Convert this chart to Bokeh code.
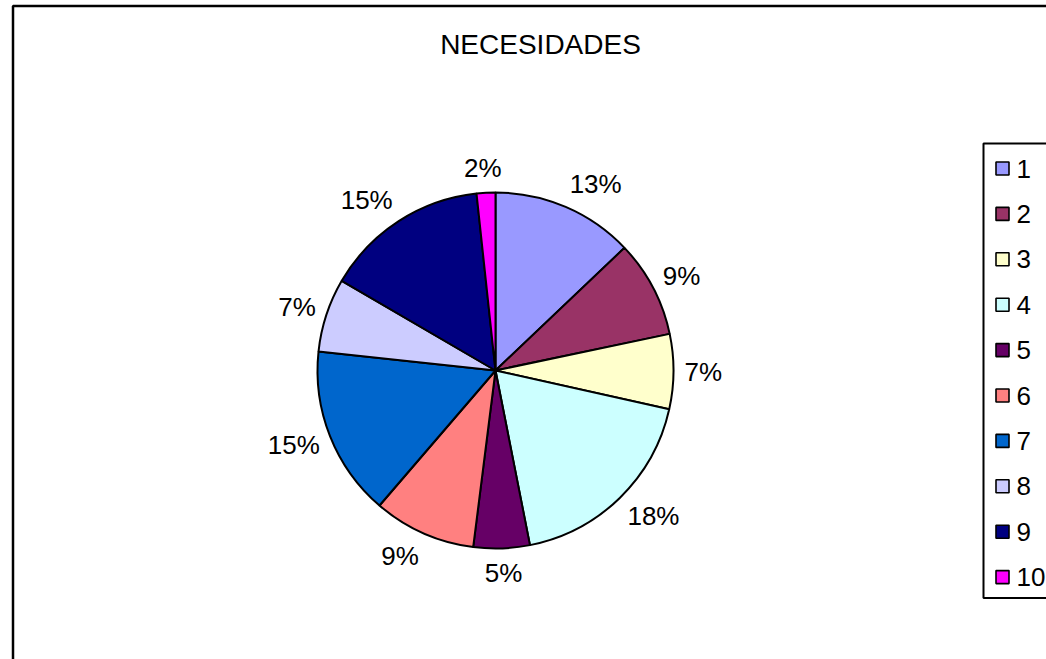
import math
from bokeh.plotting import figure
from bokeh.models import Range1d, ColumnDataSource
from bokeh.core.properties import value
from bokeh.embed import file_html
from bokeh.resources import INLINE

# ---- data ----
categories = ["1", "2", "3", "4", "5", "6", "7", "8", "9", "10"]
shares = [12.9, 8.8, 6.8, 18.4, 5.1, 9.3, 15.4, 6.7, 14.9, 1.7]
colors = ["#9999FF", "#993366", "#FFFFCC", "#CCFFFF", "#660066",
          "#FF8080", "#0066CC", "#CCCCFF", "#000080", "#FF00FF"]
title_text = "NECESIDADES"

W, H = 1046, 659
FONT = "Liberation Sans"
FS = 26

p = figure(width=W, height=H, output_backend="svg", toolbar_location=None,
           x_range=Range1d(0, W), y_range=Range1d(0, H),
           min_border=0, outline_line_color=None)
p.axis.visible = False
p.grid.visible = False
p.background_fill_color = "white"
p.border_fill_color = "white"

# outer chart border (extends beyond the visible page at right/bottom)
p.quad(left=[12.5], right=[W + 50], top=[H - 5.5], bottom=[-50],
       fill_color=None, line_color="black", line_width=2.5)

# title
p.text(x=[540], y=[H - 44], text=[title_text], text_font=value(FONT),
       text_font_size="28px", text_align="center", text_baseline="middle",
       text_color="black")

# pie
cx, cy, r = 495, H - 370, 178
total = sum(shares)
starts, ends, mids = [], [], []
cum = 0.0
for s in shares:
    a0 = math.pi / 2 - 2 * math.pi * cum / total
    cum += s
    a1 = math.pi / 2 - 2 * math.pi * cum / total
    starts.append(a0)
    ends.append(a1)
    mids.append((a0 + a1) / 2)

src = ColumnDataSource(dict(start=starts, end=ends, color=colors))
p.wedge(x=cx, y=cy, radius=r, start_angle="start", end_angle="end",
        direction="clock", fill_color="color", line_color="black",
        line_width=2, source=src)

# percentage labels
labels = [f"{round(100 * s / total)}%" for s in shares]
lx, ly = [], []
for lab, m in zip(labels, mids):
    w = sum(0.889 * FS if ch == "%" else 0.556 * FS for ch in lab)
    h = 28
    ax = cx + (r + 11) * math.cos(m)
    ay = cy + (r + 11) * math.sin(m)
    k = max(-1.0, min(1.0, 2.5 * math.cos(m)))
    lx.append(ax + (w / 2) * k)
    ly.append(ay + (h / 2) * math.sin(m))
p.text(x=lx, y=ly, text=labels, text_font=value(FONT), text_font_size=f"{FS}px",
       text_align="center", text_baseline="middle", text_color="black")

# legend
lg_left, lg_top, lg_bottom = 983, H - 143, H - 597.5
p.quad(left=[lg_left], right=[W + 50], top=[lg_top], bottom=[lg_bottom],
       fill_color="white", line_color="black", line_width=2)
first_y = H - 168
step = 45.4
ys = [first_y - i * step for i in range(len(categories))]
p.scatter(x=[1002] * len(categories), y=ys, marker="square", size=13,
          fill_color=colors, line_color="black", line_width=1.6)
p.text(x=[1016] * len(categories), y=ys, text=categories, text_font=value(FONT),
       text_font_size=f"{FS}px", text_align="left", text_baseline="middle",
       text_color="black")

open("out.html", "w").write(file_html(p, INLINE))
